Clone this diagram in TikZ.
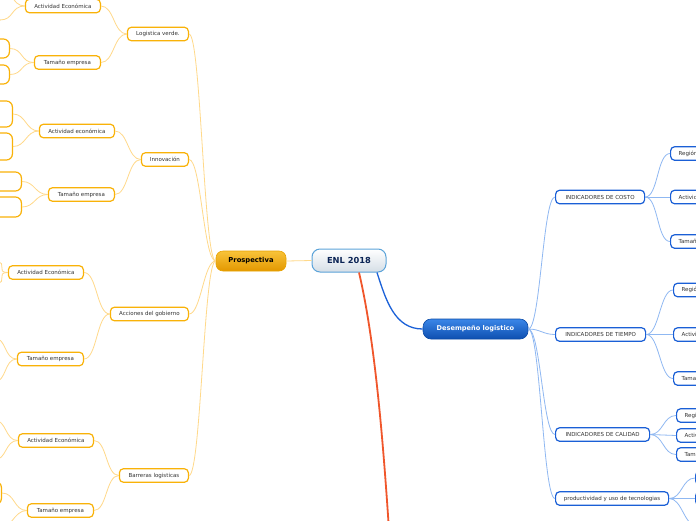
\documentclass[tikz,border=0pt]{standalone}
\usepackage{fontspec}
\setmainfont{DejaVu Sans}
\usetikzlibrary{positioning}
\definecolor{orborde}{HTML}{F9B208}
\definecolor{orlinea}{HTML}{FFD98A}
\definecolor{azborde}{HTML}{1A5FD6}
\definecolor{azlinea}{HTML}{8FB8F2}
\definecolor{rojo}{HTML}{F0562B}
\definecolor{azfuerte}{HTML}{1B61D8}
\definecolor{texto}{HTML}{333333}
\definecolor{raizborde}{HTML}{5BA3D9}
\definecolor{raizfondo}{HTML}{D5DEE6}
\definecolor{raiztexto}{HTML}{0B2455}
\definecolor{prospborde}{HTML}{E9A300}
\definecolor{prospalto}{HTML}{F8C33A}
\definecolor{prospbajo}{HTML}{E39800}
\definecolor{desborde}{HTML}{0C4BA6}
\definecolor{desalto}{HTML}{3A86E8}
\definecolor{desbajo}{HTML}{0E4FB0}

\begin{document}
\begin{tikzpicture}[
    x=1pt, y=-1pt,
    rootnode/.style={rectangle, rounded corners=8pt, draw=raizborde, line width=1pt, top color=white, bottom color=raizfondo, minimum width=74pt, minimum height=23pt, inner sep=0pt, text=raiztexto, font=\fontsize{8.3}{9}\selectfont\bfseries},
    mainorange/.style={rectangle, rounded corners=7pt, draw=prospborde, line width=0.6pt, top color=prospalto, bottom color=prospbajo, minimum width=70pt, minimum height=20pt, inner sep=0pt, font=\fontsize{6.8}{8}\selectfont\bfseries},
    mainblue/.style={rectangle, rounded corners=8pt, draw=desborde, line width=0.6pt, top color=desalto, bottom color=desbajo, minimum width=105pt, minimum height=20pt, inner sep=0pt, text=white, font=\fontsize{6.6}{8}\selectfont\bfseries},
    obranch/.style={rectangle, rounded corners=4pt, draw=orborde, line width=1.2pt, fill=white, minimum height=13.5pt, inner ysep=0pt, inner xsep=8pt, text=texto, font=\fontsize{5.5}{6}\selectfont},
    actividad/.style={obranch, minimum width=75pt},
    tamano/.style={obranch, minimum width=66pt},
    oleaf/.style={obranch, rounded corners=6pt, minimum width=50pt},
    bbranch/.style={obranch, draw=azborde},
    bleaf/.style={bbranch, anchor=west},
    olink/.style={draw=orlinea, line width=0.8pt},
    blink/.style={draw=azlinea, line width=0.8pt},
  ]
  \useasboundingbox (0,0) rectangle (696,520);
  \clip (0,0) rectangle (696,520);
  \fill[white] (0,0) rectangle (696,520);

  \node[rootnode] (enl) at (349,260.5) {ENL 2018};
  \node[mainorange] (prosp) at (251,261) {Prospectiva};
  \node[mainblue] (desemp) at (475.5,329) {Desempeño logistico};
  \coordinate (sigue) at (389,530);

  % Prospectiva
  \node[obranch, minimum width=61pt, anchor=east] (logverde) at (189,34) {Logistica verde.};
  \node[obranch, minimum width=47pt, anchor=east] (innov) at (189,159.5) {Innovación};
  \node[obranch, minimum width=78pt, anchor=east] (gobierno) at (189,314) {Acciones del gobierno};
  \node[obranch, minimum width=69pt, anchor=east] (barreras) at (189,475.5) {Barreras logisticas};

  \node[actividad, anchor=east] (act_lv) at (101,6) {Actividad Económica};
  \node[tamano, anchor=east] (tam_lv) at (101,62.5) {Tamaño empresa};
  \node[actividad, anchor=east] (act_in) at (115,131) {Actividad económica};
  \node[tamano, anchor=east] (tam_in) at (115,194.5) {Tamaño empresa};
  \node[actividad, anchor=east] (act_go) at (84,272.5) {Actividad Económica};
  \node[tamano, anchor=east] (tam_go) at (84,359) {Tamaño empresa};
  \node[actividad, anchor=east] (act_ba) at (94,440.5) {Actividad Económica};
  \node[tamano, anchor=east] (tam_ba) at (94,510.5) {Tamaño empresa};

  \node[oleaf, anchor=east] (h_lv1) at (-2,-14) {};
  \node[oleaf, anchor=east] (h_lv2) at (0,20) {};
  \node[oleaf, minimum height=19pt, anchor=east] (h_lv3) at (10,48.5) {};
  \node[oleaf, minimum height=19pt, anchor=east] (h_lv4) at (10,74.5) {};
  \node[oleaf, minimum height=26pt, anchor=east] (h_in1) at (13,114) {};
  \node[oleaf, minimum height=27pt, anchor=east] (h_in2) at (13,146.5) {};
  \node[oleaf, minimum height=19pt, anchor=east] (h_in3) at (22,181.5) {};
  \node[oleaf, minimum height=20pt, anchor=east] (h_in4) at (22,207) {};
  \node[oleaf, anchor=east] (h_go1) at (-4,262) {};
  \node[oleaf, anchor=east] (h_go2) at (-4,283) {};
  \node[oleaf, anchor=east] (h_go3) at (-6,338) {};
  \node[oleaf, anchor=east] (h_go4) at (-6,382) {};
  \node[oleaf, anchor=east] (h_ba1) at (-6,420) {};
  \node[oleaf, anchor=east] (h_ba2) at (-6,460) {};
  \node[oleaf, minimum height=23pt, anchor=east] (h_ba3) at (2,493) {};
  \node[oleaf, anchor=east] (h_ba4) at (-2,530) {};

  \draw[olink] (enl.west) -- (prosp.east);
  \draw[olink] (prosp.west) .. controls +(-12,0) and +(12,0) .. (logverde.east);
  \draw[olink] (prosp.west) .. controls +(-12,0) and +(12,0) .. (innov.east);
  \draw[olink] (prosp.west) .. controls +(-12,0) and +(12,0) .. (gobierno.east);
  \draw[olink] (prosp.west) .. controls +(-12,0) and +(12,0) .. (barreras.east);

  \draw[olink] (logverde.west) .. controls +(-13,0) and +(13,0) .. (act_lv.east);
  \draw[olink] (logverde.west) .. controls +(-13,0) and +(13,0) .. (tam_lv.east);
  \draw[olink] (innov.west) .. controls +(-13,0) and +(13,0) .. (act_in.east);
  \draw[olink] (innov.west) .. controls +(-13,0) and +(13,0) .. (tam_in.east);
  \draw[olink] (gobierno.west) .. controls +(-13,0) and +(13,0) .. (act_go.east);
  \draw[olink] (gobierno.west) .. controls +(-13,0) and +(13,0) .. (tam_go.east);
  \draw[olink] (barreras.west) .. controls +(-13,0) and +(13,0) .. (act_ba.east);
  \draw[olink] (barreras.west) .. controls +(-13,0) and +(13,0) .. (tam_ba.east);

  \draw[olink] (act_lv.west) .. controls +(-14,0) and +(14,0) .. (h_lv1.east);
  \draw[olink] (act_lv.west) .. controls +(-14,0) and +(14,0) .. (h_lv2.east);
  \draw[olink] (tam_lv.west) .. controls +(-13,0) and +(13,0) .. (h_lv3.east);
  \draw[olink] (tam_lv.west) .. controls +(-13,0) and +(13,0) .. (h_lv4.east);
  \draw[olink] (act_in.west) .. controls +(-13,0) and +(13,0) .. (h_in1.east);
  \draw[olink] (act_in.west) .. controls +(-13,0) and +(13,0) .. (h_in2.east);
  \draw[olink] (tam_in.west) .. controls +(-13,0) and +(13,0) .. (h_in3.east);
  \draw[olink] (tam_in.west) .. controls +(-13,0) and +(13,0) .. (h_in4.east);
  \draw[olink] (act_go.west) .. controls +(-13,0) and +(13,0) .. (h_go1.east);
  \draw[olink] (act_go.west) .. controls +(-13,0) and +(13,0) .. (h_go2.east);
  \draw[olink] (tam_go.west) .. controls +(-13,0) and +(13,0) .. (h_go3.east);
  \draw[olink] (tam_go.west) .. controls +(-13,0) and +(13,0) .. (h_go4.east);
  \draw[olink] (act_ba.west) .. controls +(-13,0) and +(13,0) .. (h_ba1.east);
  \draw[olink] (act_ba.west) .. controls +(-13,0) and +(13,0) .. (h_ba2.east);
  \draw[olink] (tam_ba.west) .. controls +(-13,0) and +(13,0) .. (h_ba3.east);
  \draw[olink] (tam_ba.west) .. controls +(-13,0) and +(13,0) .. (h_ba4.east);

  % Desempeño logistico
  \node[bbranch, minimum width=89pt, anchor=west] (costo) at (555,197) {INDICADORES DE COSTO};
  \node[bbranch, minimum width=90pt, anchor=west] (tiempo) at (555,334.5) {INDICADORES DE TIEMPO};
  \node[bbranch, minimum width=94pt, anchor=west] (calidad) at (555,434.5) {INDICADORES DE CALIDAD};
  \node[bbranch, minimum width=113pt, anchor=west] (product) at (555,498.5) {productividad y uso de tecnologias};

  \node[bleaf] (c_reg) at (670,153.5) {Región};
  \node[bleaf] (c_act) at (670,197) {Actividad Económica};
  \node[bleaf] (c_tam) at (670,241.5) {Tamaño empresa};
  \node[bleaf] (t_reg) at (673,290) {Región};
  \node[bleaf] (t_act) at (673,334.5) {Actividad Económica};
  \node[bleaf] (t_tam) at (673,378.5) {Tamaño empresa};
  \node[bleaf] (q_reg) at (676,415.5) {Región};
  \node[bleaf] (q_act) at (676,435.5) {Actividad Económica};
  \node[bleaf] (q_tam) at (676,454.5) {Tamaño empresa};
  \node[bleaf, minimum width=40pt] (p_uno) at (695,478) {};
  \node[bleaf, minimum width=40pt] (p_dos) at (695,498.5) {};
  \node[bleaf, minimum width=40pt] (p_tres) at (697,526) {};

  \draw[blink] (desemp.east) .. controls +(12,0) and +(-12,0) .. (costo.west);
  \draw[blink] (desemp.east) .. controls +(12,0) and +(-12,0) .. (tiempo.west);
  \draw[blink] (desemp.east) .. controls +(12,0) and +(-12,0) .. (calidad.west);
  \draw[blink] (desemp.east) .. controls +(12,0) and +(-12,0) .. (product.west);

  \draw[blink] (costo.east) .. controls +(13,0) and +(-13,0) .. (c_reg.west);
  \draw[blink] (costo.east) -- (c_act.west);
  \draw[blink] (costo.east) .. controls +(13,0) and +(-13,0) .. (c_tam.west);
  \draw[blink] (tiempo.east) .. controls +(13,0) and +(-13,0) .. (t_reg.west);
  \draw[blink] (tiempo.east) -- (t_act.west);
  \draw[blink] (tiempo.east) .. controls +(13,0) and +(-13,0) .. (t_tam.west);
  \draw[blink] (calidad.east) .. controls +(13,0) and +(-13,0) .. (q_reg.west);
  \draw[blink] (calidad.east) -- (q_act.west);
  \draw[blink] (calidad.east) .. controls +(13,0) and +(-13,0) .. (q_tam.west);
  \draw[blink] (product.east) .. controls +(13,0) and +(-13,0) .. (p_uno.west);
  \draw[blink] (product.east) .. controls +(13,0) and +(-13,0) .. (p_dos.west);
  \draw[blink] (product.east) .. controls +(13,0) and +(-13,0) .. (p_tres.west);

  % tronco
  \draw[azfuerte, line width=1.3pt] ([xshift=28pt]enl.south) .. controls +(9,28) and +(-28,0) .. (desemp.west);
  \draw[rojo, line width=1.8pt] ([xshift=10pt]enl.south) .. controls +(16,68) and +(-6,-90) .. (sigue);

\end{tikzpicture}
\end{document}
